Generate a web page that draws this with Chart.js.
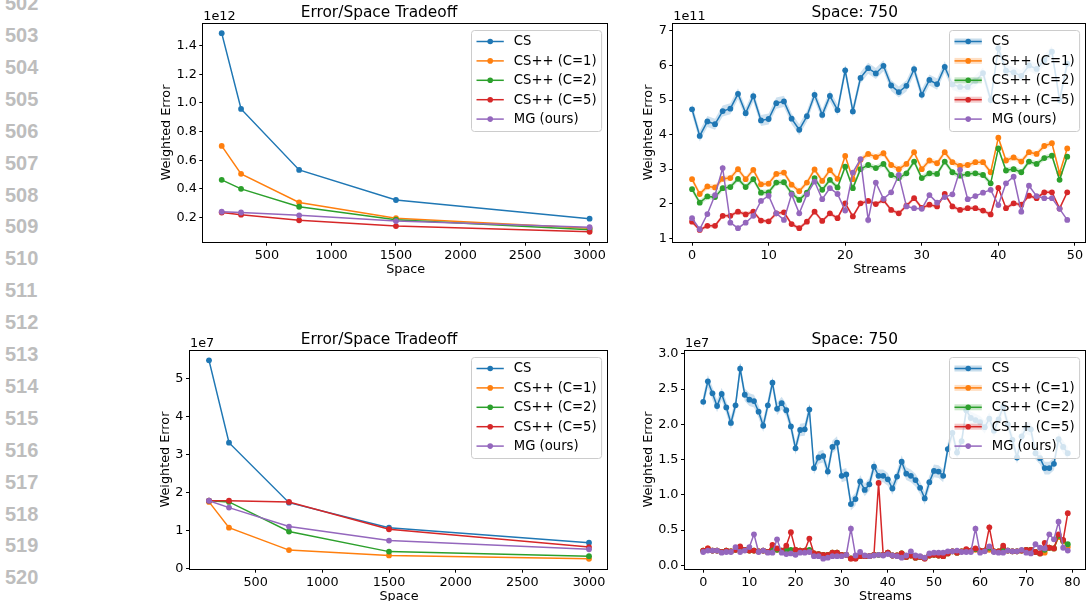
<!DOCTYPE html>
<html>
<head>
<meta charset="utf-8">
<script src="https://cdn.jsdelivr.net/npm/chart.js@4.4.1/dist/chart.umd.min.js"></script>
<style>
    html, body { margin: 0; padding: 0; background: #fff; width: 1090px; height: 601px; overflow: hidden; }
    .panel { position: absolute; }
    .ln { position: absolute; left: 5px; font: bold 20px "Liberation Sans", Arial, sans-serif; color: #bdbdbd; line-height: 20px; }
</style>
</head>
<body>
<div id="lines"></div>
<div class="panel" style="left:150px;top:0px"><canvas id="tl" width="470" height="290"></canvas></div>
<div class="panel" style="left:620px;top:0px"><canvas id="tr" width="470" height="290"></canvas></div>
<div class="panel" style="left:150px;top:327px"><canvas id="bl" width="470" height="290"></canvas></div>
<div class="panel" style="left:620px;top:327px"><canvas id="br" width="470" height="290"></canvas></div>
<script>
    // line numbers of the paper margin
    const lineNumbers = [502, 503, 504, 505, 506, 507, 508, 509, 510, 511, 512, 513, 514, 515, 516, 517, 518, 519, 520, 521];

    const seriesNames = ['CS', 'CS++ (C=1)', 'CS++ (C=2)', 'CS++ (C=5)', 'MG (ours)'];
    const seriesColors = ['#1f77b4', '#ff7f0e', '#2ca02c', '#d62728', '#9467bd'];

    // top left: error vs space (x 1e12)
    const spaceTop = [150, 300, 750, 1500, 3000];
    const topCS = [1.487, 0.958, 0.532, 0.322, 0.192];
    const topC1 = [0.700, 0.505, 0.305, 0.195, 0.125];
    const topC2 = [0.463, 0.400, 0.275, 0.185, 0.115];
    const topC5 = [0.235, 0.220, 0.180, 0.140, 0.100];
    const topMG = [0.240, 0.235, 0.215, 0.175, 0.132];

    // top right: per stream, space 750 (x 1e11)
    const streamsTop = [0,1,2,3,4,5,6,7,8,9,10,11,12,13,14,15,16,17,18,19,20,21,22,23,24,25,26,27,28,29,30,31,32,33,34,35,36,37,38,39,40,41,42,43,44,45,46,47,48,49];
    const strCS = [4.73,3.96,4.38,4.30,4.68,4.75,5.18,4.62,5.11,4.41, 4.45,4.91,4.96,4.46,4.14,4.53,5.15,4.57,5.12,4.71,
                   5.86,4.67,5.64,5.92,5.77,5.99,5.42,5.23,5.41,5.89, 5.15,5.58,5.46,5.96,5.45,5.38,5.38,5.55,5.78,5.00,
                   6.50,5.85,5.80,5.70,6.00,5.90,6.15,6.40,5.00,6.05];
    const strC1 = [2.71,2.28,2.50,2.47,2.72,2.74,3.00,2.71,2.98,2.56, 2.58,2.86,2.90,2.55,2.36,2.61,2.99,2.66,2.97,2.72,
                   3.38,2.71,3.27,3.44,3.35,3.46,3.12,3.00,3.15,3.49, 3.00,3.25,3.17,3.49,3.20,3.09,3.12,3.20,3.20,2.91,
                   3.91,3.25,3.34,3.22,3.49,3.44,3.67,3.75,2.88,3.60];
    const strC2 = [2.42,2.03,2.21,2.19,2.45,2.48,2.72,2.48,2.71,2.32, 2.33,2.61,2.62,2.30,2.11,2.32,2.74,2.40,2.69,2.47,
                   3.07,2.45,3.00,3.12,3.03,3.15,2.83,2.74,2.88,3.22, 2.74,2.88,2.86,3.22,2.91,2.81,2.86,2.88,2.83,2.59,
                   3.60,2.96,3.00,2.91,3.22,3.15,3.32,3.39,2.69,3.36];
    const strC5 = [1.48,1.24,1.36,1.36,1.65,1.65,1.77,1.69,1.77,1.51, 1.49,1.72,1.75,1.41,1.29,1.48,1.77,1.50,1.72,1.58,
                   2.01,1.63,2.01,2.08,1.99,2.10,1.82,1.72,1.94,2.16, 1.88,1.97,1.92,2.28,1.92,1.82,1.87,1.87,1.80,1.69,
                   2.46,1.87,2.01,1.97,2.23,2.16,2.33,2.33,1.86,2.33];
    const strMG = [1.58,1.26,1.70,2.25,3.03,1.45,1.29,1.45,1.65,2.08, 2.23,1.72,1.53,2.27,1.72,2.27,2.64,2.13,2.45,2.28,
                   1.80,2.90,3.29,1.53,2.61,2.14,2.33,2.83,1.92,1.87, 1.85,2.25,2.03,2.19,2.27,2.98,2.13,2.22,2.32,2.40,
                   1.96,2.59,2.78,1.77,2.52,2.22,2.16,2.16,1.85,1.53];
    // half width of the shaded spread
    const strBand = [0.16, 0.08, 0.08, 0.06, 0];

    // bottom left: error vs space (x 1e7)
    const spaceBottom = [150, 300, 750, 1500, 3000];
    const botCS = [5.48, 3.31, 1.73, 1.07, 0.675];
    const botC1 = [1.75, 1.07, 0.48, 0.34, 0.25];
    const botC2 = [1.78, 1.75, 0.97, 0.44, 0.32];
    const botC5 = [1.78, 1.78, 1.75, 1.03, 0.56];
    const botMG = [1.78, 1.60, 1.10, 0.73, 0.50];

    // bottom right: per stream, space 750 (x 1e7)
    const streamsBottom = [0,1,2,3,4,5,6,7,8,9,10,11,12,13,14,15,16,17,18,19,20,21,22,23,24,25,26,27,28,29,30,31,32,33,34,35,36,37,38,39,
                           40,41,42,43,44,45,46,47,48,49,50,51,52,53,54,55,56,57,58,59,60,61,62,63,64,65,66,67,68,69,70,71,72,73,74,75,76,77,78,79];
    const sbCS = [2.32,2.61,2.44,2.26,2.43,2.24,2.02,2.27,2.79,2.42, 2.35,2.33,2.18,1.98,2.27,2.59,2.22,2.30,2.20,1.97,
                  1.66,1.92,1.93,2.21,1.38,1.53,1.55,1.33,1.68,1.74, 1.27,1.29,0.87,0.94,1.19,1.07,1.15,1.40,1.27,1.27,
                  1.22,1.09,1.26,1.47,1.30,1.27,1.21,1.10,0.95,1.18, 1.34,1.33,1.27,1.65,1.88,1.60,1.76,2.20,2.09,2.06,
                  2.03,1.96,2.08,1.91,2.07,2.25,2.00,1.78,1.53,1.83, 1.95,1.93,1.59,1.52,1.38,1.38,1.44,1.79,1.68,1.59];
    const sbC1 = [0.21,0.24,0.21,0.21,0.19,0.21,0.20,0.22,0.22,0.22, 0.21,0.21,0.20,0.21,0.19,0.22,0.22,0.21,0.22,0.20,
                  0.22,0.21,0.21,0.20,0.17,0.16,0.15,0.15,0.18,0.18, 0.15,0.15,0.10,0.10,0.13,0.13,0.13,0.15,0.15,0.15,
                  0.18,0.14,0.14,0.17,0.12,0.14,0.11,0.12,0.10,0.14, 0.15,0.14,0.13,0.17,0.20,0.18,0.20,0.22,0.21,0.22,
                  0.21,0.21,0.22,0.20,0.20,0.22,0.21,0.20,0.20,0.21, 0.22,0.22,0.19,0.17,0.18,0.25,0.24,0.40,0.34,0.26];
    const sbC2 = [0.21,0.23,0.21,0.21,0.19,0.21,0.20,0.22,0.23,0.22, 0.21,0.21,0.20,0.21,0.19,0.23,0.22,0.21,0.23,0.22,
                  0.22,0.21,0.21,0.22,0.17,0.16,0.15,0.15,0.18,0.18, 0.15,0.15,0.10,0.10,0.13,0.13,0.13,0.15,0.15,0.15,
                  0.18,0.14,0.14,0.17,0.12,0.14,0.11,0.12,0.10,0.14, 0.15,0.14,0.13,0.17,0.20,0.18,0.20,0.22,0.21,0.23,
                  0.21,0.21,0.25,0.20,0.20,0.24,0.21,0.20,0.20,0.21, 0.22,0.22,0.19,0.17,0.22,0.25,0.24,0.42,0.35,0.30];
    const sbC5 = [0.21,0.24,0.21,0.21,0.19,0.21,0.20,0.22,0.27,0.22, 0.21,0.21,0.20,0.21,0.19,0.29,0.24,0.21,0.28,0.47,
                  0.22,0.21,0.21,0.38,0.17,0.16,0.15,0.15,0.18,0.18, 0.15,0.15,0.095,0.095,0.13,0.13,0.13,0.15,1.17,0.15,
                  0.18,0.14,0.14,0.17,0.12,0.14,0.11,0.12,0.095,0.14, 0.15,0.14,0.13,0.17,0.20,0.18,0.20,0.23,0.21,0.24,
                  0.21,0.21,0.54,0.20,0.20,0.28,0.21,0.20,0.20,0.21, 0.22,0.22,0.19,0.17,0.32,0.25,0.24,0.44,0.36,0.74];
    const sbMG = [0.19,0.21,0.21,0.21,0.18,0.19,0.19,0.26,0.19,0.21, 0.26,0.44,0.19,0.21,0.18,0.18,0.37,0.18,0.16,0.17,
                  0.15,0.18,0.18,0.19,0.13,0.13,0.095,0.11,0.13,0.13, 0.13,0.15,0.52,0.14,0.19,0.14,0.13,0.14,0.15,0.14,
                  0.16,0.14,0.13,0.11,0.14,0.20,0.14,0.13,0.11,0.17, 0.18,0.18,0.18,0.20,0.20,0.21,0.19,0.19,0.19,0.52,
                  0.18,0.20,0.27,0.19,0.18,0.18,0.21,0.20,0.20,0.22, 0.18,0.17,0.30,0.25,0.24,0.44,0.37,0.62,0.25,0.21];
    const sbBand = [0.09, 0.02, 0.02, 0.02, 0];

    // tick labels
    const spaceTicks = [500, 1000, 1500, 2000, 2500, 3000];
    const topYTicks = [0.2, 0.4, 0.6, 0.8, 1.0, 1.2, 1.4];
    const strXTicks = [0, 10, 20, 30, 40, 50];
    const strYTicks = [1, 2, 3, 4, 5, 6, 7];
    const botYTicks = [0, 1, 2, 3, 4, 5];
    const sbXTicks = [0, 10, 20, 30, 40, 50, 60, 70, 80];
    const sbYTicks = [0.0, 0.5, 1.0, 1.5, 2.0, 2.5, 3.0];

    // 여백 줄번호
    const linesBox = document.getElementById('lines');
    lineNumbers.forEach((n, k) => {
        const d = document.createElement('div');
        d.className = 'ln';
        d.style.top = (25 + k * 31.9 - 31.9) + 'px';
        d.textContent = n;
        linesBox.appendChild(d);
    });

    Chart.defaults.font.family = '"DejaVu Sans", sans-serif';
    Chart.defaults.color = '#000';

    const FS = 12.8;
    const LEGEND_FS = 13.2;

    function hexAlpha(hex, a) {
        const v = parseInt(hex.slice(1), 16);
        return 'rgba(' + (v >> 16) + ',' + ((v >> 8) & 255) + ',' + (v & 255) + ',' + a + ')';
    }

    // matplotlib style bands, frame, legend and offset text
    const mplDecor = {
        id: 'mplDecor',
        beforeDatasetsDraw(chart, args, opts) {
            const bands = chart.config.options.bandWidths;
            if (!bands) return;
            const ctx = chart.ctx;
            const a = chart.chartArea;
            const xs = chart.scales.x, ys = chart.scales.y;
            ctx.save();
            ctx.beginPath();
            ctx.rect(a.left, a.top, a.right - a.left, a.bottom - a.top);
            ctx.clip();
            bands.forEach((bw, k) => {
                if (!bw) return;
                const pts = chart.data.datasets[k].data;
                ctx.beginPath();
                pts.forEach((p, i) => {
                    const px = xs.getPixelForValue(p.x), py = ys.getPixelForValue(p.y + bw);
                    if (i === 0) ctx.moveTo(px, py); else ctx.lineTo(px, py);
                });
                for (let i = pts.length - 1; i >= 0; i--) {
                    ctx.lineTo(xs.getPixelForValue(pts[i].x), ys.getPixelForValue(pts[i].y - bw));
                }
                ctx.closePath();
                ctx.fillStyle = hexAlpha(seriesColors[k], 0.22);
                ctx.fill();
            });
            ctx.restore();
        },
        afterDraw(chart, args, opts) {
            const ctx = chart.ctx;
            const a = chart.chartArea;
            const bands = chart.config.options.bandWidths;
            ctx.save();
            ctx.strokeStyle = '#000';
            ctx.lineWidth = 1;
            const l = Math.round(a.left) - 0.5, t = Math.round(a.top) + 0.5;
            const r = Math.round(a.right) - 0.5, b = Math.round(a.bottom) + 0.5;
            ctx.strokeRect(l, t, r - l, b - t);

            // offset text like 1e12
            ctx.font = FS + 'px "DejaVu Sans"';
            ctx.fillStyle = '#000';
            ctx.textAlign = 'left';
            ctx.textBaseline = 'alphabetic';
            ctx.fillText(opts.offsetText, a.left, a.top - 3.5);

            // legend
            ctx.font = LEGEND_FS + 'px "DejaVu Sans"';
            const tw = Math.max(...seriesNames.map(n => ctx.measureText(n).width));
            const w = 42.3 + tw + 5, h = 101;
            const x0 = Math.round(a.right - 7 - w) + 0.5, y0 = Math.round(a.top + 6.7) + 0.5;
            ctx.beginPath();
            ctx.roundRect(x0, y0, w, h, 3);
            ctx.fillStyle = 'rgba(255,255,255,0.8)';
            ctx.fill();
            ctx.strokeStyle = '#cccccc';
            ctx.stroke();
            seriesNames.forEach((n, k) => {
                const cy = y0 + 11 + k * 19.4;
                if (bands && bands[k] > 0) {
                    ctx.fillStyle = hexAlpha(seriesColors[k], 0.25);
                    ctx.fillRect(x0 + 5, cy - 3, 27.3, 6);
                }
                ctx.strokeStyle = seriesColors[k];
                ctx.lineWidth = 1.5;
                ctx.beginPath();
                ctx.moveTo(x0 + 5, cy);
                ctx.lineTo(x0 + 32.3, cy);
                ctx.stroke();
                ctx.fillStyle = seriesColors[k];
                ctx.beginPath();
                ctx.arc(x0 + 18.7, cy, 2.8, 0, Math.PI * 2);
                ctx.fill();
                ctx.fillStyle = '#000';
                ctx.textBaseline = 'middle';
                ctx.fillText(n, x0 + 42.3, cy + 0.5);
            });
            ctx.restore();
        }
    };

    function makePanel(p) {
        const datasets = p.series.map((vals, k) => ({
            label: seriesNames[k],
            data: p.xs.map((x, i) => ({x: x, y: vals[i]})),
            borderColor: seriesColors[k],
            backgroundColor: seriesColors[k],
            pointBackgroundColor: seriesColors[k],
            pointBorderColor: seriesColors[k],
            pointBorderWidth: 0,
            pointRadius: 2.9,
            borderWidth: 1.5,
            tension: 0,
            fill: false,
            order: 5 - k
        }));

        const tickFont = {size: FS};
        new Chart(document.getElementById(p.id), {
            type: 'line',
            data: {datasets: datasets},
            options: {
                responsive: false,
                animation: false,
                events: [],
                bandWidths: p.bands,
                layout: {padding: {left: 0, right: p.padRight, top: 0, bottom: 0}},
                plugins: {
                    legend: {display: false},
                    tooltip: {enabled: false},
                    title: {
                        display: true, text: p.title, color: '#000',
                        font: {size: 15.4, weight: 'normal'},
                        padding: {top: 4.1, bottom: 0.72}
                    },
                    mplDecor: {offsetText: p.offsetText}
                },
                scales: {
                    x: {
                        type: 'linear', min: p.xMin, max: p.xMax,
                        afterBuildTicks: s => { s.ticks = p.xTicks.map(v => ({value: v})); },
                        afterFit: s => { s.height = 48.3; },
                        grid: {drawOnChartArea: false, drawTicks: true, tickLength: 4, color: '#000', lineWidth: 1},
                        border: {display: false},
                        ticks: {font: tickFont, padding: 2, maxRotation: 0, autoSkip: false,
                                callback: v => v.toFixed(0)},
                        title: {display: true, text: p.xLabel, font: {size: FS}, padding: {top: 0, bottom: 12.6}}
                    },
                    y: {
                        type: 'linear', min: p.yMin, max: p.yMax,
                        afterBuildTicks: s => { s.ticks = p.yTicks.map(v => ({value: v})); },
                        afterFit: s => { s.width = p.yWidth; },
                        grid: {drawOnChartArea: false, drawTicks: true, tickLength: 4, color: '#000', lineWidth: 1},
                        border: {display: false},
                        ticks: {font: tickFont, padding: 2.5, autoSkip: false,
                                callback: v => v.toFixed(p.yDec)},
                        title: {display: true, text: 'Weighted Error', font: {size: FS}, padding: {top: p.yTitlePad, bottom: 0}}
                    }
                }
            },
            plugins: [mplDecor]
        });
    }

    makePanel({
        id: 'tl', title: 'Error/Space Tradeoff', xLabel: 'Space', offsetText: '1e12',
        xs: spaceTop, series: [topCS, topC1, topC2, topC5, topMG], bands: null,
        xMin: 7.5, xMax: 3142.5, yMin: 0.031, yMax: 1.556, xTicks: spaceTicks, yTicks: topYTicks, yDec: 1,
        yWidth: 53.3, padRight: 12, yTitlePad: 9.0
    });
    makePanel({
        id: 'tr', title: 'Space: 750', xLabel: 'Streams', offsetText: '1e11',
        xs: streamsTop, series: [strCS, strC1, strC2, strC5, strMG], bands: strBand,
        xMin: -2.45, xMax: 51.45, yMin: 0.90, yMax: 7.22, xTicks: strXTicks, yTicks: strYTicks, yDec: 0,
        yWidth: 53.3, padRight: 0.5, yTitlePad: 20.6
    });
    makePanel({
        id: 'bl', title: 'Error/Space Tradeoff', xLabel: 'Space', offsetText: '1e7',
        xs: spaceBottom, series: [botCS, botC1, botC2, botC5, botMG], bands: null,
        xMin: 7.5, xMax: 3142.5, yMin: -0.01, yMax: 5.745, xTicks: spaceTicks, yTicks: botYTicks, yDec: 0,
        yWidth: 40, padRight: 12, yTitlePad: 8.3
    });
    makePanel({
        id: 'br', title: 'Space: 750', xLabel: 'Streams', offsetText: '1e7',
        xs: streamsBottom, series: [sbCS, sbC1, sbC2, sbC5, sbMG], bands: sbBand,
        xMin: -3.95, xMax: 82.95, yMin: -0.047, yMax: 3.05, xTicks: sbXTicks, yTicks: sbYTicks, yDec: 1,
        yWidth: 65, padRight: 0.5, yTitlePad: 20.6
    });
</script>
</body>
</html>
